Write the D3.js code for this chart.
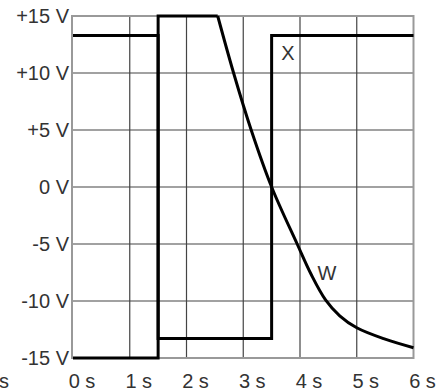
<!DOCTYPE html>
<html>
<head>
<meta charset="utf-8">
<script src="https://cdn.jsdelivr.net/npm/d3@7"></script>
<style>
  body { margin: 0; background: #fff; }
  text { font-family: "Liberation Sans", Arial, sans-serif; fill: #333; }
</style>
</head>
<body>
<script>
// axis ticks and labels
const timeTicks = [0, 1, 2, 3, 4, 5, 6];
const timeLabels = ["0 s", "1 s", "2 s", "3 s", "4 s", "5 s", "6 s"];
const voltTicks = [-15, -10, -5, 0, 5, 10, 15];
const voltLabels = ["-15 V", "-10 V", "-5 V", "0 V", "+5 V", "+10 V", "+15 V"];

// series X (square wave)
const xTime = [0, 1.5, 1.5, 3.5, 3.5, 6];
const xVolt = [13.3, 13.3, -13.3, -13.3, 13.3, 13.3];

// series W, saturated part then the decay
const wStepTime = [0, 1.5, 1.5, 2.55];
const wStepVolt = [-15, -15, 15, 15];
const wDecayTime = [2.55, 2.83, 3.14, 3.5, 3.95, 4.2, 4.45, 4.7, 5, 5.5, 6];
const wDecayVolt = [15, 10, 5, 0, -5, -7.7, -9.9, -11.3, -12.35, -13.35, -14.1];

const width = 448, height = 392;
const x = d3.scaleLinear().domain([0, 6]).range([73, 413.5]);
const y = d3.scaleLinear().domain([-15, 15]).range([358, 16]);

const svg = d3.select("body").append("svg")
  .attr("width", width)
  .attr("height", height);

// grid
svg.append("g").selectAll("line")
  .data(timeTicks.slice(1, -1))
  .join("line")
  .attr("x1", d => x(d)).attr("x2", d => x(d))
  .attr("y1", y(15)).attr("y2", y(-15))
  .attr("stroke", "#444").attr("stroke-width", 1.2);

svg.append("g").selectAll("line")
  .data(voltTicks.slice(1, -1))
  .join("line")
  .attr("x1", x(0)).attr("x2", x(6))
  .attr("y1", d => y(d)).attr("y2", d => y(d))
  .attr("stroke", "#444").attr("stroke-width", 1.2);

svg.append("rect")
  .attr("x", x(0) - 1).attr("y", y(15))
  .attr("width", x(6) - x(0) + 1).attr("height", y(-15) - y(15))
  .attr("fill", "none").attr("stroke", "#999").attr("stroke-width", 2);

// tick labels
svg.append("g").selectAll("text")
  .data(voltTicks)
  .join("text")
  .attr("x", 69)
  .attr("y", d => y(d))
  .attr("dy", "0.35em")
  .attr("text-anchor", "end")
  .attr("font-size", "20px")
  .text((d, i) => voltLabels[i]);

svg.append("g").selectAll("text")
  .data(timeTicks)
  .join("text")
  .attr("x", d => x(d) + 9)
  .attr("y", 388)
  .attr("text-anchor", "middle")
  .attr("font-size", "20px")
  .text((d, i) => timeLabels[i]);

// clipped label at the far left
svg.append("text")
  .attr("x", 9).attr("y", 388)
  .attr("text-anchor", "end")
  .attr("font-size", "20px")
  .text("s");

// curves
const line = d3.line().x(d => x(d[0])).y(d => y(d[1]));
const smooth = d3.line().x(d => x(d[0])).y(d => y(d[1])).curve(d3.curveCatmullRom.alpha(0.5));

svg.append("path")
  .attr("d", line(xTime.map((t, i) => [t, xVolt[i]])))
  .attr("fill", "none").attr("stroke", "#000").attr("stroke-width", 3);

svg.append("path")
  .attr("d", line(wStepTime.map((t, i) => [t, wStepVolt[i]])))
  .attr("fill", "none").attr("stroke", "#000").attr("stroke-width", 3);

svg.append("path")
  .attr("d", smooth(wDecayTime.map((t, i) => [t, wDecayVolt[i]])))
  .attr("fill", "none").attr("stroke", "#000").attr("stroke-width", 3);

// series labels
svg.append("text")
  .attr("x", 288).attr("y", 60)
  .attr("text-anchor", "middle")
  .attr("font-size", "20px")
  .text("X");

svg.append("text")
  .attr("x", 327).attr("y", 280)
  .attr("text-anchor", "middle")
  .attr("font-size", "20px")
  .text("W");
</script>
</body>
</html>
